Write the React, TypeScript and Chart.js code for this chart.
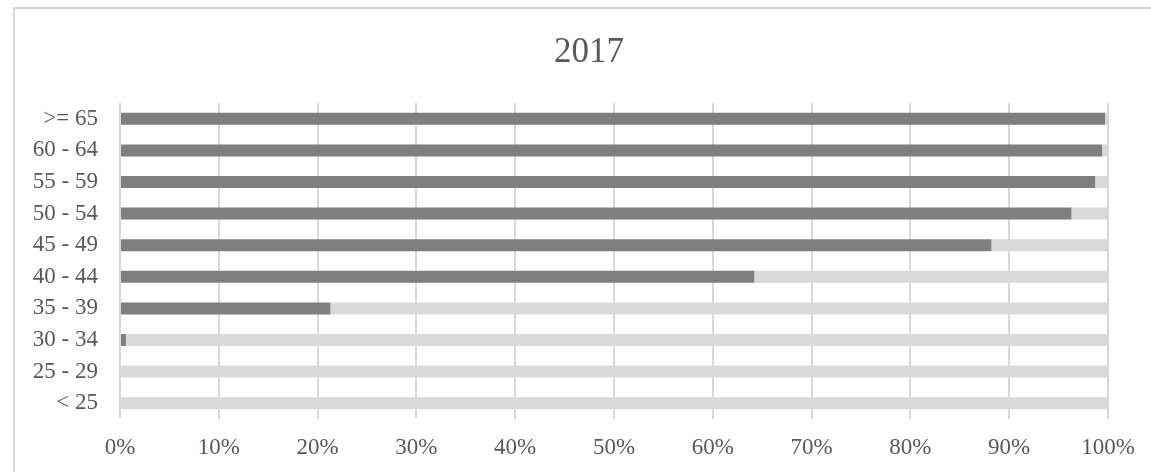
import React, { useEffect, useRef } from "react";
import { Chart, registerables } from "chart.js";

Chart.register(...registerables);

const titleText = "2017";
const categories = [">= 65", "60 - 64", "55 - 59", "50 - 54", "45 - 49", "40 - 44", "35 - 39", "30 - 34", "25 - 29", "< 25"];
const darkValues = [99.7, 99.4, 98.7, 96.3, 88.2, 64.2, 21.3, 0.6, 0, 0];
const lightValues = [0.3, 0.6, 1.3, 3.7, 11.8, 35.8, 78.7, 99.4, 100, 100];
const xTicks = [0, 10, 20, 30, 40, 50, 60, 70, 80, 90, 100];

const FONT = "'Liberation Serif', 'Times New Roman', serif";
const TEXT = "#595959";
const GRID = "#d9d9d9";

export default function App() {
  const ref = useRef<HTMLCanvasElement | null>(null);

  useEffect(() => {
    if (!ref.current) return;
    const chart = new Chart(ref.current, {
      type: "bar",
      data: {
        labels: categories,
        datasets: [
          {
            label: "A",
            data: darkValues,
            backgroundColor: "#7f7f7f",
            barPercentage: 0.38,
            categoryPercentage: 1,
          },
          {
            label: "B",
            data: lightValues,
            backgroundColor: "#d9d9d9",
            barPercentage: 0.38,
            categoryPercentage: 1,
          },
        ],
      },
      options: {
        indexAxis: "y",
        animation: false,
        responsive: false,
        maintainAspectRatio: false,
        layout: { padding: { top: 15, right: 0, bottom: 0, left: 0 } },
        plugins: {
          legend: { display: false },
          tooltip: { enabled: false },
          title: {
            display: true,
            text: titleText,
            color: TEXT,
            font: { family: FONT, size: 35, weight: "normal" },
            padding: { top: 10, bottom: 29 },
          },
        },
        scales: {
          x: {
            stacked: true,
            min: 0,
            max: 100,
            afterBuildTicks: (scale: any) => {
              scale.ticks = xTicks.map((v) => ({ value: v }));
            },
            ticks: {
              color: TEXT,
              font: { family: FONT, size: 23 },
              padding: 15,
              callback: (v: any) => v + "%",
            },
            grid: { color: GRID, lineWidth: 2, drawTicks: false },
            border: { display: false },
            afterFit: (scale: any) => {
              scale.height = 53;
            },
          },
          y: {
            stacked: true,
            ticks: {
              color: TEXT,
              font: { family: FONT, size: 23 },
              padding: 22,
            },
            grid: { display: false, drawTicks: false },
            border: { display: false },
            afterFit: (scale: any) => {
              scale.width = 107;
            },
          },
          yRight: {
            type: "linear",
            position: "right",
            display: true,
            ticks: { display: false },
            grid: { display: false, drawTicks: false },
            border: { display: false },
            afterFit: (scale: any) => {
              scale.width = 57;
            },
          },
        },
      },
    });
    return () => chart.destroy();
  }, []);

  return (
    <div style={{ position: "fixed", left: 0, top: 0, width: 1151, height: 472, overflow: "hidden", background: "#fff" }}>
      <div
        style={{
          position: "absolute",
          left: 13,
          top: 7,
          width: 1152,
          height: 480,
          borderLeft: "2px solid #d9d9d9",
          borderTop: "2px solid #d9d9d9",
          boxSizing: "border-box",
        }}
      />
      <canvas ref={ref} width={1152} height={465} style={{ position: "absolute", left: 13, top: 7, width: 1152, height: 465 }} />
    </div>
  );
}
